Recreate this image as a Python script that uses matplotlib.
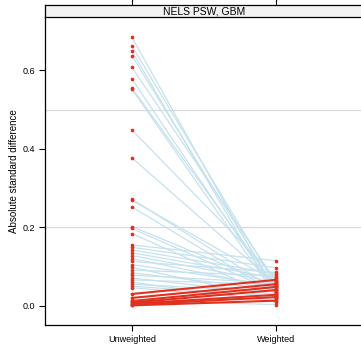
import numpy as np
import matplotlib.pyplot as plt

plt.rcParams['font.family'] = ['Liberation Sans', 'DejaVu Sans']

groups = ['Unweighted', 'Weighted']
unweighted = [0.684, 0.662, 0.649, 0.637, 0.608, 0.578, 0.555, 0.552, 0.448, 0.377,
              0.272, 0.269, 0.252, 0.202, 0.197, 0.184, 0.155, 0.149, 0.142, 0.135,
              0.128, 0.120, 0.113, 0.105, 0.098, 0.091, 0.084, 0.078, 0.071, 0.066,
              0.060, 0.055, 0.050, 0.046, 0.013,
              0.030, 0.020, 0.012, 0.008, 0.005, 0.003, 0.001]
weighted = [0.030, 0.052, 0.020, 0.042, 0.062, 0.034, 0.047, 0.026, 0.072, 0.056,
            0.040, 0.061, 0.031, 0.050, 0.036, 0.022, 0.115, 0.097, 0.082, 0.071,
            0.060, 0.046, 0.085, 0.051, 0.019, 0.076, 0.041, 0.058, 0.029, 0.054,
            0.010, 0.035, 0.024, 0.015, 0.003,
            0.066, 0.055, 0.048, 0.040, 0.028, 0.022, 0.013]

ref_lines = [0.2, 0.5]

fig = plt.figure(figsize=(3.61, 3.49), dpi=100)
ax = fig.add_axes([0.1247, 0.0688, 0.88, 0.8825])
strip = fig.add_axes([0.1247, 0.9513, 0.88, 0.0344], sharex=ax)

for r in ref_lines:
    ax.axhline(r, color='#d9d9d9', lw=0.9, zorder=1)

u = np.array(unweighted)
w = np.array(weighted)
for a, b in zip(u, w):
    if b <= a:
        ax.plot([1, 2], [a, b], color='#c6e2ee', lw=0.9, zorder=2)
for a, b in zip(u, w):
    if b > a:
        ax.plot([1, 2], [a, b], color='#e0301e', lw=1.5, zorder=3)
ax.scatter(np.ones(len(u)), u, s=7, color='#e0301e', zorder=4, linewidths=0)
ax.scatter(np.full(len(w), 2), w, s=7, color='#e0301e', zorder=4, linewidths=0)

ax.set_xlim(1 - 0.604, 2 + 0.604)
ax.set_ylim(-0.049, 0.736)
ax.set_xticks([1, 2])
ax.set_xticklabels(groups, fontsize=6.5)
ax.set_yticks([0.0, 0.2, 0.4, 0.6])
ax.set_yticklabels(['0.0', '0.2', '0.4', '0.6'], fontsize=6.5)
ax.tick_params(length=4, width=0.8, pad=3)
ax.spines['top'].set_visible(False)
ax.spines['right'].set_visible(False)
for s in ['left', 'bottom']:
    ax.spines[s].set_linewidth(0.9)
ax.set_ylabel('Absolute standard difference', fontsize=7, labelpad=3)

strip.set_facecolor('#f2f2f2')
strip.set_yticks([])
strip.tick_params(axis='x', top=True, bottom=False, labelbottom=False, labeltop=False,
                  length=4, width=0.8)
for s in strip.spines.values():
    s.set_linewidth(0.9)
strip.text(0.5, 0.45, 'NELS PSW, GBM', transform=strip.transAxes,
           ha='center', va='center', fontsize=7.5)

fig.savefig('out.png', dpi=100)
